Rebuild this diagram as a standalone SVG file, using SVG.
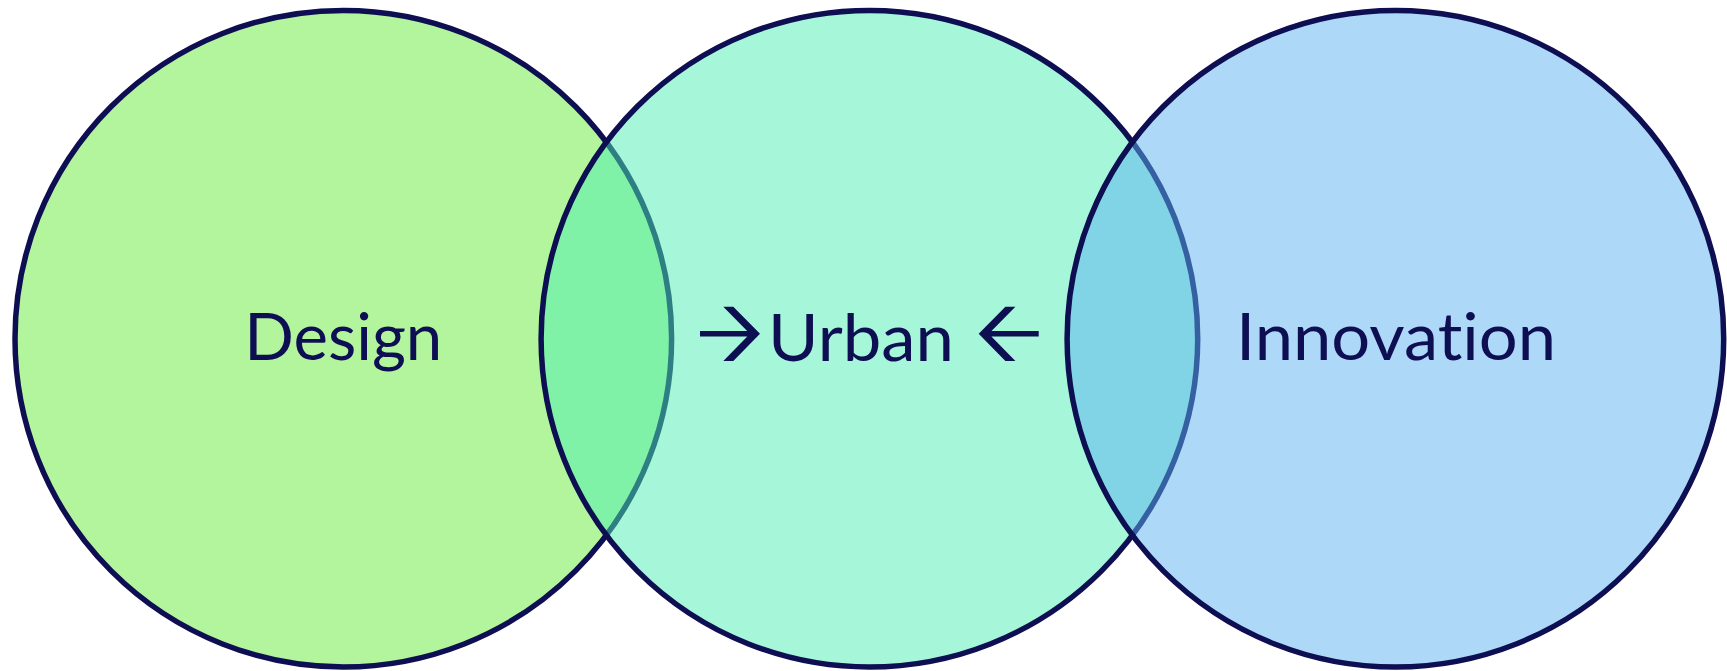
<svg xmlns="http://www.w3.org/2000/svg" width="1727" height="671" viewBox="0 0 1727 671">
  <style>
    .c { stroke: #0E0E52; stroke-width: 5.5; fill-opacity: 0.5; }
    .t { font-family: Lato, "Liberation Sans", sans-serif; font-size: 65px; fill: #0E0E52; font-variant-ligatures: none; font-feature-settings: "liga" 0, "clig" 0; }
    .ar { fill: #0E0E52; }
  </style>
  <rect x="0" y="0" width="1727" height="671" fill="#FFFFFF"/>
  <g id="node-design">
    <circle class="c" cx="343.3" cy="338.7" r="328.3" fill="#67EB39"/>
    <text class="t" x="343.3" y="360" text-anchor="middle" textLength="198" lengthAdjust="spacingAndGlyphs">Design</text>
  </g>
  <g id="node-urban">
    <circle class="c" cx="869.4" cy="338.7" r="328.3" fill="#4DEFB3"/>
    <text class="t" x="861" y="361" text-anchor="middle" textLength="186" lengthAdjust="spacingAndGlyphs">Urban</text>
    <polygon class="ar" points="700,331 747.2,331 723.3,306.7 733.3,306.7 760,333.8 733.3,361 723.3,361 747.3,336.5 700,336.5"/>
    <polygon class="ar" points="1038.7,331 991.5,331 1015.4,306.7 1005.4,306.7 978.7,333.8 1005.4,361 1015.4,361 991.4,336.5 1038.7,336.5"/>
  </g>
  <g id="node-innovation">
    <circle class="c" cx="1395.4" cy="338.7" r="328.3" fill="#5BB1F1"/>
    <text class="t" x="1396" y="360" text-anchor="middle" textLength="320" lengthAdjust="spacingAndGlyphs">Innovation</text>
  </g>
  <g id="connectors"></g>
</svg>
